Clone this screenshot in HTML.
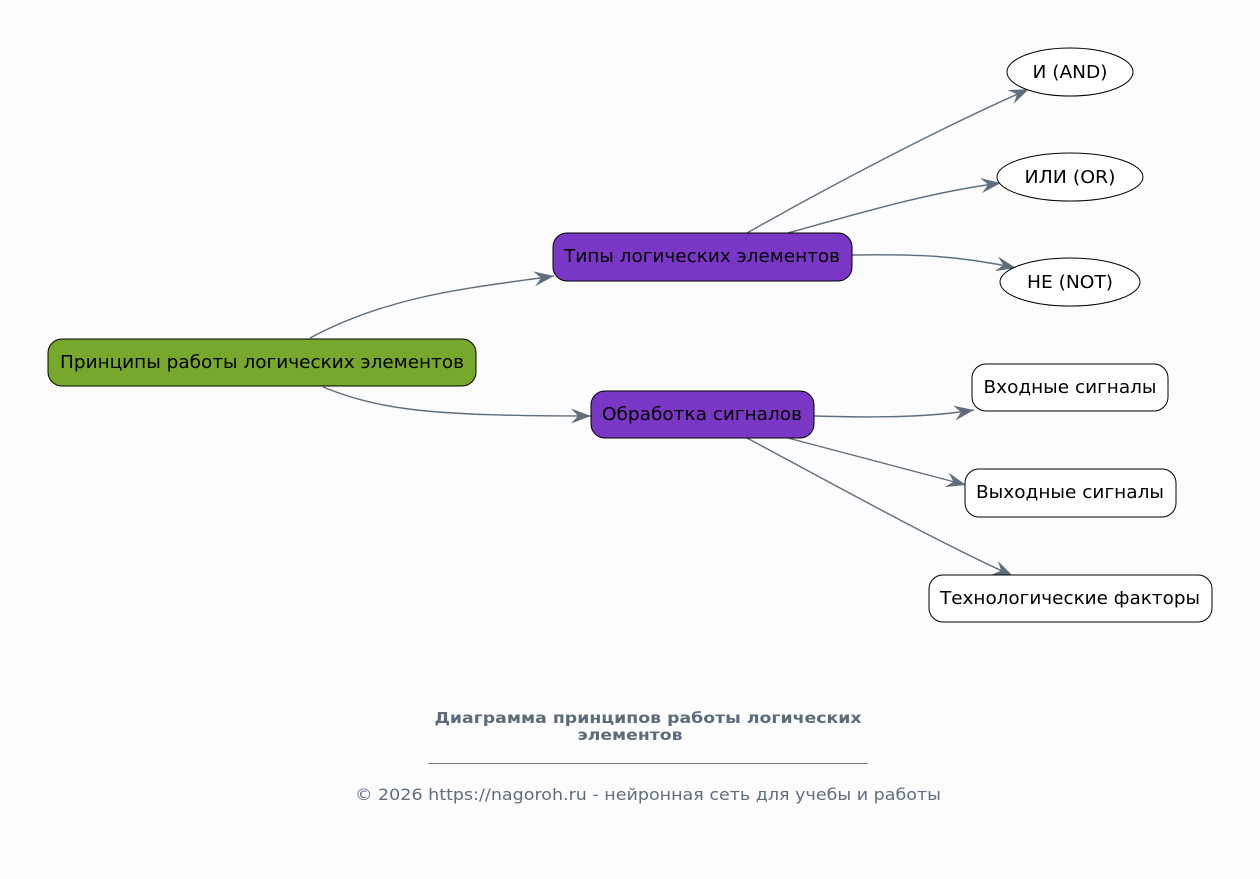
<!DOCTYPE html>
<html>
<head>
<meta charset="utf-8">
<style>
  html,body{margin:0;padding:0;background:#fcfcfc;}
  svg{display:block;}
  text{font-family:"DejaVu Sans","Liberation Sans",sans-serif;}
</style>
</head>
<body>
<svg width="1260" height="879" viewBox="0 0 1260 879" xmlns="http://www.w3.org/2000/svg">
  <defs>
    <marker id="vee" viewBox="0 0 20 16" refX="20" refY="8" markerWidth="20" markerHeight="16" markerUnits="userSpaceOnUse" orient="auto">
      <path d="M0,0.5 L20,8 L0,15.5 L7,8 Z" fill="#5f6e7d"/>
    </marker>
  </defs>
  <rect x="0" y="0" width="1260" height="879" fill="#fcfcfc"/>

  <!-- edges -->
  <g fill="none" stroke="#5f6e7d" stroke-width="1.4" marker-end="url(#vee)">
    <path d="M310,338 C390,295 470,288 554,276"/>
    <path d="M323,387 C380,410 430,416 591,416"/>
    <path d="M747,233 C830,186 940,128 1029,89"/>
    <path d="M788,233 C860,213 930,192 1001,183"/>
    <path d="M852,255 C920,254 960,256 1016,268"/>
    <path d="M814,416 C880,418 930,417 974,410"/>
    <path d="M788,438 C850,454 910,470 966,485"/>
    <path d="M747,438 C840,488 940,543 1013,576"/>
  </g>

  <!-- root -->
  <rect x="48" y="339" width="428" height="47" rx="14" ry="14" fill="#78a82b" stroke="#000" stroke-width="1"/>
  <text x="262" y="368" font-size="18" text-anchor="middle" textLength="404" lengthAdjust="spacingAndGlyphs" fill="#000">Принципы работы логических элементов</text>

  <!-- level 1 -->
  <rect x="553" y="233" width="299" height="48" rx="14" ry="14" fill="#7a37c5" stroke="#000" stroke-width="1"/>
  <text x="702" y="262" font-size="18" text-anchor="middle" textLength="276" lengthAdjust="spacingAndGlyphs" fill="#000">Типы логических элементов</text>

  <rect x="591" y="391" width="223" height="47" rx="14" ry="14" fill="#7a37c5" stroke="#000" stroke-width="1"/>
  <text x="702" y="420" font-size="18" text-anchor="middle" textLength="200" lengthAdjust="spacingAndGlyphs" fill="#000">Обработка сигналов</text>

  <!-- ellipses -->
  <ellipse cx="1070" cy="72" rx="63" ry="24" fill="#fff" stroke="#000" stroke-width="1"/>
  <text x="1070" y="78" font-size="18" text-anchor="middle" textLength="75" lengthAdjust="spacingAndGlyphs" fill="#000">И (AND)</text>

  <ellipse cx="1070" cy="177" rx="73" ry="24" fill="#fff" stroke="#000" stroke-width="1"/>
  <text x="1070" y="183" font-size="18" text-anchor="middle" textLength="91" lengthAdjust="spacingAndGlyphs" fill="#000">ИЛИ (OR)</text>

  <ellipse cx="1070" cy="282" rx="70" ry="24" fill="#fff" stroke="#000" stroke-width="1"/>
  <text x="1070" y="288" font-size="18" text-anchor="middle" textLength="86" lengthAdjust="spacingAndGlyphs" fill="#000">НЕ (NOT)</text>

  <!-- boxes -->
  <rect x="972" y="364" width="196" height="47" rx="14" ry="14" fill="#fff" stroke="#000" stroke-width="1"/>
  <text x="1070" y="393" font-size="18" text-anchor="middle" textLength="173" lengthAdjust="spacingAndGlyphs" fill="#000">Входные сигналы</text>

  <rect x="965" y="469" width="211" height="48" rx="14" ry="14" fill="#fff" stroke="#000" stroke-width="1"/>
  <text x="1070" y="498" font-size="18" text-anchor="middle" textLength="188" lengthAdjust="spacingAndGlyphs" fill="#000">Выходные сигналы</text>

  <rect x="929" y="575" width="283" height="47" rx="14" ry="14" fill="#fff" stroke="#000" stroke-width="1"/>
  <text x="1070" y="604" font-size="18" text-anchor="middle" textLength="260" lengthAdjust="spacingAndGlyphs" fill="#000">Технологические факторы</text>

  <!-- title -->
  <text x="648" y="723" font-size="15" font-weight="bold" text-anchor="middle" textLength="427" lengthAdjust="spacingAndGlyphs" fill="#5b6b7b">Диаграмма принципов работы логических</text>
  <text x="630" y="740" font-size="15" font-weight="bold" text-anchor="middle" textLength="105" lengthAdjust="spacingAndGlyphs" fill="#5b6b7b">элементов</text>
  <line x1="428" y1="763.5" x2="868" y2="763.5" stroke="#6f7c88" stroke-width="1"/>
  <text x="648" y="800" font-size="16" text-anchor="middle" textLength="586" lengthAdjust="spacingAndGlyphs" fill="#5f6e7d">© 2026 https://nagoroh.ru - нейронная сеть для учебы и работы</text>
</svg>
</body>
</html>
